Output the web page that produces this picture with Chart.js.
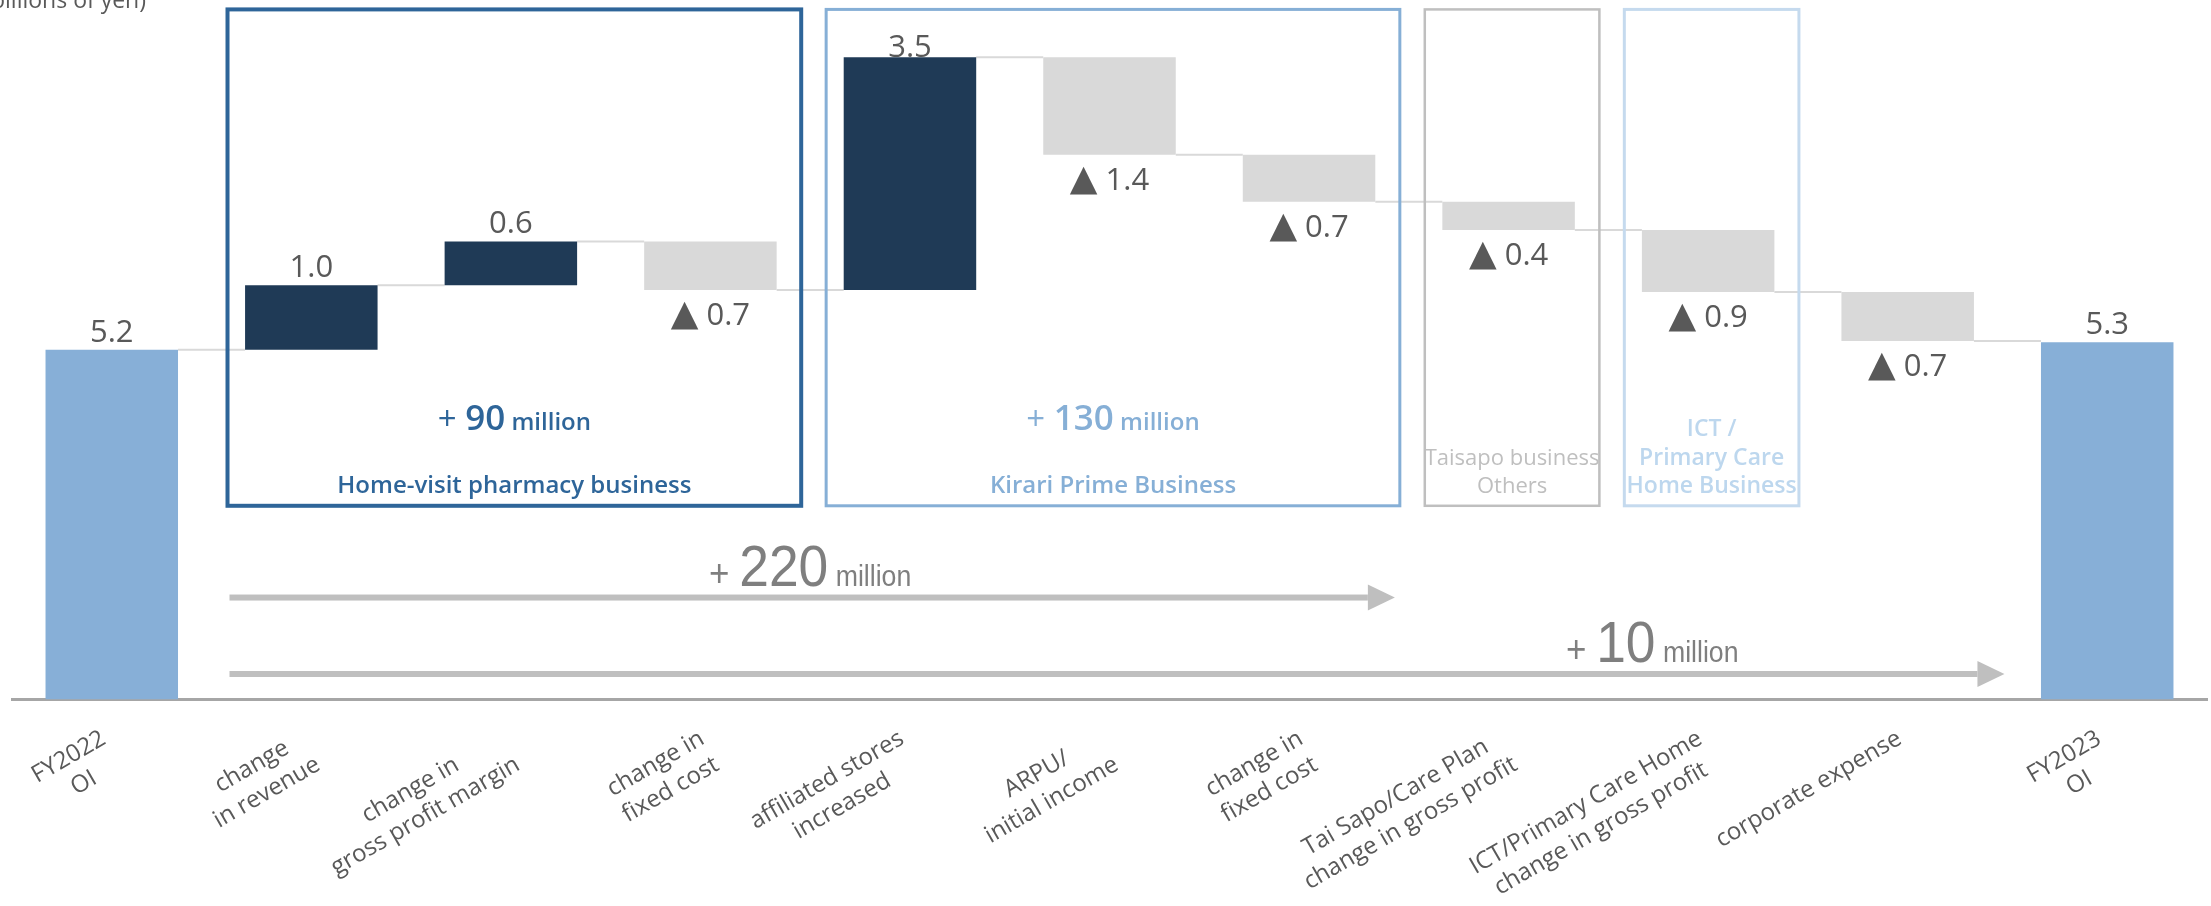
<!DOCTYPE html>
<html lang="en">
  <head>
    <meta charset="UTF-8" />
    <title>Operating income bridge FY2022 - FY2023</title>
    <script src="https://cdn.jsdelivr.net/npm/chart.js"></script>
    <style>
      html, body { margin: 0; padding: 0; background: #ffffff; }
      .chart-wrap { width: 2211px; height: 906px; }
    </style>
  </head>
  <body>
    <div class="chart-wrap"><canvas id="bridgeChart"></canvas></div>

    <script>
      // 📊 Data (billions of yen)
      const categories = [
        ["FY2022", "OI"],
        ["change", "in revenue"],
        ["change in", "gross profit margin"],
        ["change in", "fixed cost"],
        ["affiliated stores", "increased"],
        ["ARPU/", "initial income"],
        ["change in", "fixed cost"],
        ["Tai Sapo/Care Plan", "change in gross profit"],
        ["ICT/Primary Care Home", "change in gross profit"],
        ["corporate expense"],
        ["FY2023", "OI"],
      ];
      const openingOI = 5.2;
      const closingOI = 5.31;
      const changes = [0.96, 0.65, -0.72, 3.46, -1.45, -0.7, -0.42, -0.92, -0.73];
      const valueLabels = ["5.2", "1.0", "0.6", "0.7", "3.5", "1.4", "0.7", "0.4", "0.9", "0.7", "5.3"];
      const minusMark = "▲";

      const segmentNames = [
        ["Home-visit pharmacy business"],
        ["Kirari Prime Business"],
        ["Taisapo business", "Others"],
        ["ICT /", "Primary Care", "Home Business"],
      ];
      const segmentTotals = ["90", "130", "", ""];
      const segmentFirst = [1, 4, 7, 8];
      const segmentLast = [3, 6, 7, 8];

      const overallTotals = ["220", "10"];
      const overallLast = [6, 9];
      const unitLabel = "(billions of yen)";

      // 🎨 Styles
      const FONT = '"Open Sans", "Noto Sans", "DejaVu Sans", sans-serif';
      const NARROW = '"Liberation Sans", Arial, sans-serif';
      const barColors = { total: "#87afd7", up: "#1f3a56", down: "#d9d9d9" };
      const segmentColors = ["#2e6599", "#86afd6", "#bfbfbf", "#c5daee"];
      const segmentTextColors = ["#2e6599", "#86afd6", "#bfbfbf", "#bdd7ee"];
      const segmentNameFonts = [`600 24px ${FONT}`, `600 24px ${FONT}`, `22px ${FONT}`, `600 23px ${FONT}`];
      const segmentLineWidths = [4, 3, 2.5, 3];
      const arrowTipOffsets = [0.43, 0.485];
      const arrowLevels = [1.516, 0.379];
      const arrowLabelAt = [3.5, 7.72];

      // build floating bars from the running total
      const floating = [[0, openingOI]];
      const kinds = ["total"];
      const levelAfter = [openingOI];
      let level = openingOI;
      changes.forEach((c) => {
        const next = level + c;
        floating.push([level, next]);
        kinds.push(c >= 0 ? "up" : "down");
        level = next;
        levelAfter.push(level);
      });
      floating.push([0, closingOI]);
      kinds.push("total");

      function drawParts(ctx, parts, cx, baseline, squeeze) {
        const widths = parts.map((p) => {
          ctx.font = p.font;
          return ctx.measureText(p.text).width * squeeze;
        });
        let x = cx - widths.reduce((a, b) => a + b, 0) / 2;
        parts.forEach((p, i) => {
          ctx.save();
          ctx.font = p.font;
          ctx.fillStyle = p.color;
          ctx.textAlign = "left";
          ctx.textBaseline = "alphabetic";
          ctx.translate(x, baseline);
          ctx.scale(squeeze, 1);
          ctx.fillText(p.text, 0, 0);
          ctx.restore();
          x += widths[i];
        });
      }

      const bridgePlugin = {
        id: "bridge",
        beforeDatasetsDraw(chart) {
          // connector lines between bars
          const { ctx } = chart;
          const ys = chart.scales.y;
          const bars = chart.getDatasetMeta(0).data;
          ctx.save();
          ctx.strokeStyle = "#d9d9d9";
          ctx.lineWidth = 2;
          for (let i = 0; i < bars.length - 1; i++) {
            const y = ys.getPixelForValue(levelAfter[i]);
            ctx.beginPath();
            ctx.moveTo(bars[i].x + bars[i].width / 2, y);
            ctx.lineTo(bars[i + 1].x - bars[i + 1].width / 2, y);
            ctx.stroke();
          }
          ctx.restore();
        },
        afterDatasetsDraw(chart) {
          const { ctx, chartArea } = chart;
          const xs = chart.scales.x;
          const ys = chart.scales.y;
          const step = xs.getPixelForValue(1) - xs.getPixelForValue(0);
          const bars = chart.getDatasetMeta(0).data;

          // 📦 segment boxes
          segmentFirst.forEach((first, k) => {
            const left = xs.getPixelForValue(first) - 0.42 * step;
            const right = xs.getPixelForValue(segmentLast[k]) + 0.455 * step;
            const top = ys.getPixelForValue(10.26);
            const bottom = ys.getPixelForValue(2.88);
            ctx.save();
            ctx.strokeStyle = segmentColors[k];
            ctx.lineWidth = segmentLineWidths[k];
            ctx.strokeRect(left, top, right - left, bottom - top);
            const cx = (left + right) / 2;
            if (segmentTotals[k]) {
              drawParts(
                ctx,
                [
                  { text: "+ ", font: `33px ${FONT}`, color: segmentTextColors[k] },
                  { text: segmentTotals[k], font: `600 35px ${FONT}`, color: segmentTextColors[k] },
                  { text: " million", font: `600 24px ${FONT}`, color: segmentTextColors[k] },
                ],
                cx,
                ys.getPixelForValue(4.0),
                1
              );
            }
            const names = segmentNames[k];
            const lastBase = ys.getPixelForValue(3.07);
            ctx.font = segmentNameFonts[k];
            ctx.fillStyle = segmentTextColors[k];
            ctx.textAlign = "center";
            ctx.textBaseline = "alphabetic";
            names.forEach((line, j) => {
              ctx.fillText(line, cx, lastBase - (names.length - 1 - j) * 28.3);
            });
            ctx.restore();
          });

          // value labels (decreases get the ▲ mark, below the bar)
          bars.forEach((bar, i) => {
            const top = Math.min(bar.y, bar.base);
            const bottom = Math.max(bar.y, bar.base);
            if (kinds[i] === "down") {
              drawParts(
                ctx,
                [
                  { text: minusMark, font: `36px "DejaVu Sans", sans-serif`, color: "#595959" },
                  { text: " " + valueLabels[i], font: `31px ${FONT}`, color: "#595959" },
                ],
                bar.x,
                bottom + 35,
                1
              );
            } else {
              ctx.save();
              ctx.font = `31px ${FONT}`;
              ctx.fillStyle = "#595959";
              ctx.textAlign = "center";
              ctx.textBaseline = "alphabetic";
              ctx.fillText(valueLabels[i], bar.x, Math.max(top - 8, 57));
              ctx.restore();
            }
          });

          // ➡️ overall arrows
          overallLast.forEach((last, k) => {
            const x0 = xs.getPixelForValue(1) - 0.41 * step;
            const tip = xs.getPixelForValue(last) + arrowTipOffsets[k] * step;
            const y = ys.getPixelForValue(arrowLevels[k]);
            ctx.save();
            ctx.fillStyle = "#bfbfbf";
            ctx.fillRect(x0, y - 3, tip - 27 - x0, 6);
            ctx.beginPath();
            ctx.moveTo(tip - 27, y - 13);
            ctx.lineTo(tip, y);
            ctx.lineTo(tip - 27, y + 13);
            ctx.closePath();
            ctx.fill();
            ctx.restore();
            drawParts(
              ctx,
              [
                { text: "+ ", font: `38px ${NARROW}`, color: "#7f7f7f" },
                { text: overallTotals[k], font: `58px ${NARROW}`, color: "#7f7f7f" },
                { text: " million", font: `29px ${NARROW}`, color: "#7f7f7f" },
              ],
              xs.getPixelForValue(arrowLabelAt[k]),
              y - 12,
              0.92
            );
          });

          // category labels, rotated
          ctx.save();
          ctx.font = `24px ${FONT}`;
          ctx.fillStyle = "#595959";
          ctx.textAlign = "center";
          ctx.textBaseline = "top";
          categories.forEach((lines, i) => {
            const w = Math.max(...lines.map((l) => ctx.measureText(l).width));
            ctx.save();
            ctx.translate(xs.getPixelForValue(i) - 14, chartArea.bottom + 27);
            ctx.rotate(-Math.PI / 6);
            lines.forEach((l, j) => ctx.fillText(l, -w / 2, j * 30));
            ctx.restore();
          });
          ctx.restore();

          // unit label (partly off the canvas, as on the slide)
          ctx.save();
          ctx.font = `23px ${FONT}`;
          ctx.fillStyle = "#595959";
          ctx.textAlign = "right";
          ctx.textBaseline = "alphabetic";
          ctx.fillText(unitLabel, 146, 8);
          ctx.restore();
        },
      };

      const ctx = document.getElementById("bridgeChart").getContext("2d");
      new Chart(ctx, {
        type: "bar",
        data: {
          labels: categories,
          datasets: [
            {
              data: floating,
              backgroundColor: kinds.map((k) => barColors[k]),
              borderWidth: 0,
              barPercentage: 0.664,
              categoryPercentage: 1,
            },
          ],
        },
        options: {
          responsive: true,
          maintainAspectRatio: false,
          animation: false,
          devicePixelRatio: 1,
          layout: { padding: { left: 12, right: 4, top: 0, bottom: 206.5 } },
          plugins: { legend: { display: false }, tooltip: { enabled: false } },
          scales: {
            x: {
              grid: { display: false, drawTicks: false, tickLength: 0 },
              ticks: { display: false },
              border: { display: true, color: "#a6a6a6", width: 3 },
            },
            y: { display: false, min: 0, max: 10.4 },
          },
        },
        plugins: [bridgePlugin],
      });
    </script>
  </body>
</html>
